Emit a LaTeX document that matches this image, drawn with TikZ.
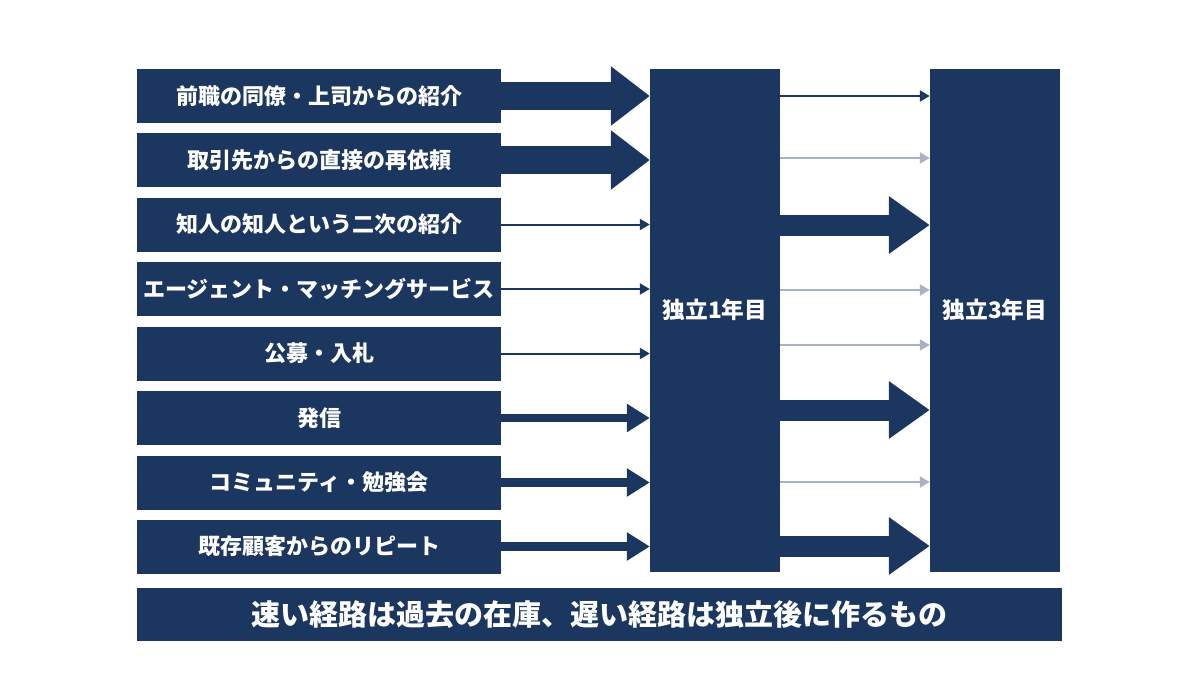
\documentclass[tikz,border=0pt]{standalone}
\usepackage{fontspec}
\setmainfont{Noto Sans CJK JP}
\usetikzlibrary{arrows.meta}
\definecolor{navy}{HTML}{1B365F}
\definecolor{paleline}{HTML}{A8B2C2}
\tikzset{
  srcbox/.style={fill=navy, text=white, minimum width=364pt, minimum height=54pt, inner sep=0pt, font=\bfseries\fontsize{22}{22}\selectfont},
  barbox/.style={fill=navy, minimum width=130pt, minimum height=503pt, inner sep=0pt},
  barlabel/.style={text=white, inner sep=0pt, font=\bfseries\fontsize{22.7}{22.7}\selectfont},
  bigarrow/.style={draw=navy, line width=28pt, -{Triangle[length=39pt, width=57pt]}},
  midarrow/.style={draw=navy, line width=8.5pt, -{Triangle[length=23pt, width=27pt]}},
  thinarrow/.style={draw=navy, line width=2pt, -{Triangle[length=10pt, width=11pt]}},
  palearrow/.style={draw=paleline, line width=2pt, -{Triangle[length=10pt, width=11pt]}},
  rbigarrow/.style={draw=navy, line width=21pt, -{Triangle[length=41pt, width=55pt]}},
}
\begin{document}
\begin{tikzpicture}[x=1pt, y=-1pt]
\useasboundingbox (0,0) rectangle (1200,675);
% left sources
\node[srcbox] (s1) at (319,96) {前職の同僚・上司からの紹介};
\node[srcbox] (s2) at (319,160) {取引先からの直接の再依頼};
\node[srcbox] (s3) at (319,224.5) {知人の知人という二次の紹介};
\node[srcbox] (s4) at (319,289) {エージェント・マッチングサービス};
\node[srcbox] (s5) at (319,353.5) {公募・入札};
\node[srcbox] (s6) at (319,418) {発信};
\node[srcbox] (s7) at (319,482.5) {コミュニティ・勉強会};
\node[srcbox] (s8) at (319,546.5) {既存顧客からのリピート};
% bars
\node[barbox] (mid) at (715,320.5) {};
\node[barlabel] (midlabel) at (715,310) {独立1年目};
\node[barbox] (right) at (995,320.5) {};
\node[barlabel] (rightlabel) at (995,310) {独立3年目};
% banner
\node[fill=navy, text=white, minimum width=925pt, minimum height=53pt, inner sep=0pt, font=\bfseries\fontsize{29}{29}\selectfont] (banner) at (599.5,614.5) {速い経路は過去の在庫、遅い経路は独立後に作るもの};
% left arrows
\draw[bigarrow] (s1.east) -- (s1.east -| mid.west);
\draw[bigarrow] (s2.east) -- (s2.east -| mid.west);
\draw[thinarrow] (s3.east) -- (s3.east -| mid.west);
\draw[thinarrow] (s4.east) -- (s4.east -| mid.west);
\draw[thinarrow] (s5.east) -- (s5.east -| mid.west);
\draw[midarrow] (s6.east) -- (s6.east -| mid.west);
\draw[midarrow] (s7.east) -- (s7.east -| mid.west);
\draw[midarrow] (s8.east) -- (s8.east -| mid.west);
% right arrows
\coordinate (r1) at (0,96);
\coordinate (r2) at (0,158);
\coordinate (r3) at (0,225);
\coordinate (r4) at (0,290);
\coordinate (r5) at (0,345);
\coordinate (r6) at (0,410);
\coordinate (r7) at (0,482);
\coordinate (r8) at (0,546);
\draw[thinarrow] (mid.east |- r1) -- (right.west |- r1);
\draw[palearrow] (mid.east |- r2) -- (right.west |- r2);
\draw[rbigarrow] (mid.east |- r3) -- (right.west |- r3);
\draw[palearrow] (mid.east |- r4) -- (right.west |- r4);
\draw[palearrow] (mid.east |- r5) -- (right.west |- r5);
\draw[rbigarrow] (mid.east |- r6) -- (right.west |- r6);
\draw[palearrow] (mid.east |- r7) -- (right.west |- r7);
\draw[rbigarrow] (mid.east |- r8) -- (right.west |- r8);
\end{tikzpicture}
\end{document}
